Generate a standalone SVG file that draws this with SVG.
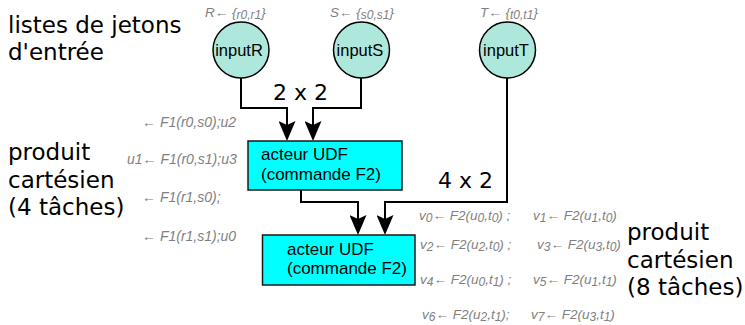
<svg xmlns="http://www.w3.org/2000/svg" width="745" height="325" viewBox="0 0 745 325">
<defs>
<marker id="arr" viewBox="0 0 20 17" refX="12" refY="8.5" markerWidth="20" markerHeight="17" markerUnits="userSpaceOnUse" orient="auto">
<path d="M0,0 L20,8.5 L0,17 L4,8.5 Z" fill="#000"/>
</marker>
</defs>
<style>
.big{font-family:"DejaVu Sans",sans-serif;font-size:23px;fill:#000}
.mul{font-family:"DejaVu Sans",sans-serif;font-size:22px;fill:#000}
.lab{font-family:"Liberation Sans",Arial,sans-serif;font-size:13.5px;font-style:italic;fill:#808080}
.lab2{font-family:"Liberation Sans",Arial,sans-serif;font-size:14px;font-style:italic;fill:#808080}
.sub{font-size:12px}
.node{fill:#aee8dc;stroke:#000;stroke-width:1.5}
.box{fill:#00ffff;stroke:#1a1a1a;stroke-width:1.5}
.nt{font-family:"Liberation Sans",Arial,sans-serif;font-size:16.5px;fill:#000}
.bt{font-family:"Liberation Sans",Arial,sans-serif;font-size:17px;fill:#000}
.con{fill:none;stroke:#000;stroke-width:2;marker-end:url(#arr)}
</style>
<rect width="745" height="325" fill="#fff"/>

<text class="big" x="8" y="33">listes de jetons</text>
<text class="big" x="8" y="60">d'entrée</text>
<text class="big" x="8" y="160">produit</text>
<text class="big" x="8" y="188">cartésien</text>
<text class="big" x="8" y="215">(4 tâches)</text>
<text class="big" x="627" y="240">produit</text>
<text class="big" x="627" y="268">cartésien</text>
<text class="big" x="627" y="295">(8 tâches)</text>

<text class="lab" x="205" y="17">R← {<tspan class="sub" dy="1.5">r0,r1</tspan><tspan dy="-1.5">}</tspan></text>
<text class="lab" x="330" y="17">S← {<tspan class="sub" dy="1.5">s0,s1</tspan><tspan dy="-1.5">}</tspan></text>
<text class="lab" x="480" y="17">T← {<tspan class="sub" dy="1.5">t0,t1</tspan><tspan dy="-1.5">}</tspan></text>

<text class="lab2" x="142" y="127">← F1(r0,s0);u2</text>
<text class="lab2" x="127" y="164">u1← F1(r0,s1);u3</text>
<text class="lab2" x="142" y="202">← F1(r1,s0);</text>
<text class="lab2" x="142" y="241">← F1(r1,s1);u0</text>

<text class="lab" x="419" y="220">v<tspan class="sub" dy="2">0</tspan><tspan dy="-2">← F2(u</tspan><tspan class="sub" dy="2">0</tspan><tspan dy="-2">,t</tspan><tspan class="sub" dy="2">0</tspan><tspan dy="-2">) ;</tspan></text>
<text class="lab" x="533" y="220">v<tspan class="sub" dy="2">1</tspan><tspan dy="-2">← F2(u</tspan><tspan class="sub" dy="2">1</tspan><tspan dy="-2">,t</tspan><tspan class="sub" dy="2">0</tspan><tspan dy="-2">)</tspan></text>
<text class="lab" x="420" y="249">v<tspan class="sub" dy="2">2</tspan><tspan dy="-2">← F2(u</tspan><tspan class="sub" dy="2">2</tspan><tspan dy="-2">,t</tspan><tspan class="sub" dy="2">0</tspan><tspan dy="-2">) ;</tspan></text>
<text class="lab" x="537" y="249">v<tspan class="sub" dy="2">3</tspan><tspan dy="-2">← F2(u</tspan><tspan class="sub" dy="2">3</tspan><tspan dy="-2">,t</tspan><tspan class="sub" dy="2">0</tspan><tspan dy="-2">)</tspan></text>
<text class="lab" x="420" y="284">v<tspan class="sub" dy="2">4</tspan><tspan dy="-2">← F2(u</tspan><tspan class="sub" dy="2">0</tspan><tspan dy="-2">,t</tspan><tspan class="sub" dy="2">1</tspan><tspan dy="-2">) ;</tspan></text>
<text class="lab" x="533" y="284">v<tspan class="sub" dy="2">5</tspan><tspan dy="-2">← F2(u</tspan><tspan class="sub" dy="2">1</tspan><tspan dy="-2">,t</tspan><tspan class="sub" dy="2">1</tspan><tspan dy="-2">)</tspan></text>
<text class="lab" x="422" y="319">v<tspan class="sub" dy="2">6</tspan><tspan dy="-2">← F2(u</tspan><tspan class="sub" dy="2">2</tspan><tspan dy="-2">,t</tspan><tspan class="sub" dy="2">1</tspan><tspan dy="-2">);</tspan></text>
<text class="lab" x="531" y="319">v<tspan class="sub" dy="2">7</tspan><tspan dy="-2">← F2(u</tspan><tspan class="sub" dy="2">3</tspan><tspan dy="-2">,t</tspan><tspan class="sub" dy="2">1</tspan><tspan dy="-2">)</tspan></text>

<text class="mul" x="273" y="100">2 x 2</text>
<text class="mul" x="438" y="188">4 x 2</text>

<g id="connectors">
<path class="con" d="M241,78 V108 H287 V133"/>
<path class="con" d="M361,78 V108 H313 V133"/>
<path class="con" d="M301,190 V202 H358 V227"/>
<path class="con" d="M507,78 V202 H385 V227"/>
</g>

<g id="inputR">
<circle class="node" cx="241" cy="50" r="28"/>
<text class="nt" x="239" y="56" text-anchor="middle">inputR</text>
</g>
<g id="inputS">
<circle class="node" cx="361.5" cy="50" r="28"/>
<text class="nt" x="360" y="56" text-anchor="middle">inputS</text>
</g>
<g id="inputT">
<circle class="node" cx="507.5" cy="50" r="28"/>
<text class="nt" x="506" y="56" text-anchor="middle">inputT</text>
</g>
<g id="udf1">
<rect class="box" x="248" y="141" width="154" height="49"/>
<text class="bt" x="261" y="160">acteur UDF</text>
<text class="bt" x="261" y="180">(commande F2)</text>
</g>
<g id="udf2">
<rect class="box" x="262.5" y="235" width="152.5" height="50"/>
<text class="bt" x="287" y="255">acteur UDF</text>
<text class="bt" x="287" y="274">(commande F2)</text>
</g>
</svg>
